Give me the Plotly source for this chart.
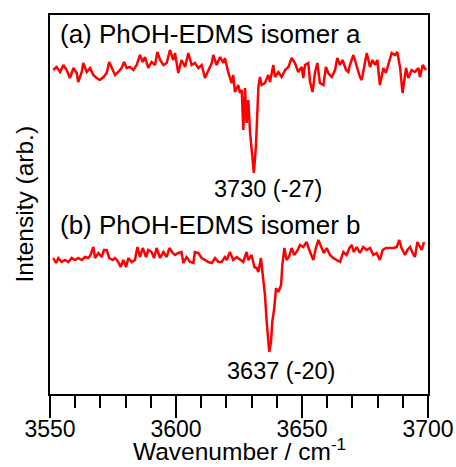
import plotly.graph_objects as go

# Trace (a): PhOH-EDMS isomer a
wn_a = [3551.3, 3552.6, 3554.0, 3555.3, 3556.6, 3557.9, 3559.3, 3560.6, 3561.2, 3562.6,
        3563.2, 3564.6, 3565.9, 3567.2, 3568.5, 3569.8, 3571.2, 3572.5, 3573.5, 3574.5,
        3575.8, 3577.1, 3578.4, 3579.4, 3580.4, 3581.7, 3583.1, 3584.4, 3585.7, 3586.8,
        3587.7, 3589.0, 3590.3, 3591.7, 3592.6, 3593.7, 3595.0, 3596.3, 3597.6, 3598.9,
        3599.6, 3600.9, 3602.2, 3603.6, 3604.9, 3606.2, 3607.5, 3608.9, 3610.2, 3611.5,
        3612.8, 3614.2, 3614.8, 3616.1, 3617.5, 3618.8, 3619.4, 3620.8, 3622.1, 3622.7,
        3623.4, 3624.7, 3625.4, 3626.1, 3626.7, 3627.4, 3628.0, 3628.7, 3629.4, 3630.0,
        3630.9, 3631.7, 3632.7, 3633.3, 3634.0, 3635.3, 3636.6, 3637.3, 3638.6, 3639.3,
        3640.6, 3641.9, 3643.3, 3644.6, 3645.9, 3647.2, 3648.5, 3649.9,
        3650.5, 3651.2, 3652.5, 3653.2, 3654.2, 3655.2, 3656.1, 3657.1, 3658.5, 3659.5,
        3660.4, 3661.8, 3663.1, 3664.0, 3665.1, 3666.1, 3667.5, 3668.4, 3669.0, 3670.4,
        3671.7, 3673.0, 3673.7, 3675.0, 3675.7, 3677.0, 3678.0, 3679.0, 3679.9, 3680.9,
        3682.3, 3683.3, 3684.3, 3685.6, 3686.9, 3687.8, 3688.9, 3689.9, 3691.3, 3692.2,
        3693.5, 3694.8, 3696.2, 3696.8, 3697.9, 3699.2]
int_a = [3.24, 3.27, 3.22, 3.29, 3.24, 3.16, 3.26, 3.21, 3.12, 3.22,
         3.31, 3.22, 3.26, 3.19, 3.16, 3.14, 3.17, 3.21, 3.32, 3.26,
         3.19, 3.22, 3.26, 3.32, 3.26, 3.27, 3.24, 3.29, 3.39, 3.32,
         3.37, 3.26, 3.32, 3.29, 3.42, 3.34, 3.29, 3.31, 3.44, 3.34,
         3.41, 3.21, 3.34, 3.27, 3.41, 3.29, 3.31, 3.26, 3.29, 3.16,
         3.24, 3.31, 3.39, 3.29, 3.37, 3.31, 3.36, 3.21, 3.11, 3.19,
         3.02, 3.09, 3.01, 3.04, 2.64, 3.06, 2.71, 2.94, 2.61, 2.44,
         2.21, 2.47, 3.07, 3.17, 3.09, 3.11, 3.19, 3.12, 3.29, 3.17,
         3.22, 3.17, 3.24, 3.27, 3.36, 3.31, 3.22, 3.27,
         3.16, 3.29, 3.31, 3.12, 3.02, 3.22, 3.31, 3.11, 3.09, 3.27,
         3.21, 3.17, 3.24, 3.36, 3.29, 3.34, 3.24, 3.22, 3.29, 3.39,
         3.27, 3.17, 3.14, 3.34, 3.41, 3.27, 3.34, 3.29, 3.34, 3.09,
         3.26, 3.21, 3.31, 3.41, 3.39, 3.42, 3.27, 3.01, 3.26, 3.16,
         3.24, 3.22, 3.26, 3.17, 3.29, 3.24]

# Trace (b): PhOH-EDMS isomer b
wn_b = [3551.3, 3552.4, 3553.3, 3554.6, 3556.0, 3557.3, 3558.6, 3559.9, 3561.2, 3562.6,
        3563.9, 3565.2, 3566.1, 3567.2, 3567.9, 3569.2, 3570.5, 3571.4, 3572.5, 3573.5,
        3574.9, 3575.8, 3577.1, 3578.0, 3579.1, 3580.2, 3581.1, 3582.4, 3583.7, 3584.7,
        3585.7, 3586.8, 3588.1, 3589.0, 3590.3, 3591.3, 3592.3, 3593.7, 3595.0, 3596.3,
        3597.4, 3598.7,
        3599.6, 3600.9, 3602.2, 3602.9, 3604.2, 3605.6, 3606.9, 3607.5, 3608.9, 3610.2,
        3611.5, 3612.8, 3614.2, 3615.5, 3616.8, 3618.1, 3619.4, 3620.1, 3621.4, 3622.7,
        3624.1, 3625.4, 3626.7, 3628.0, 3628.7, 3630.0, 3631.1, 3632.0, 3632.7, 3633.7,
        3634.7, 3635.3, 3636.0, 3636.6, 3637.0, 3637.7, 3638.2, 3639.0, 3639.7, 3640.6,
        3641.7, 3642.2, 3643.0, 3643.9, 3644.8, 3645.9, 3646.9, 3648.3, 3649.2,
        3650.5, 3651.8, 3653.2, 3654.5, 3655.5, 3656.5, 3657.8, 3658.7, 3659.8, 3661.1,
        3662.4, 3663.8, 3665.1, 3666.4, 3667.7, 3668.8, 3669.7, 3670.6, 3671.7, 3673.0,
        3674.3, 3675.7, 3677.0, 3678.3, 3679.6, 3680.9, 3682.0, 3683.3, 3684.6, 3686.2,
        3687.6, 3688.6, 3689.5, 3690.9, 3691.8, 3692.9, 3693.9, 3694.8, 3695.8, 3696.8,
        3697.5, 3698.4]
int_b = [1.36, 1.31, 1.36, 1.32, 1.34, 1.32, 1.36, 1.34, 1.36, 1.34,
         1.37, 1.36, 1.39, 1.47, 1.36, 1.41, 1.37, 1.44, 1.44, 1.36,
         1.34, 1.36, 1.32, 1.27, 1.34, 1.27, 1.36, 1.32, 1.34, 1.47,
         1.37, 1.46, 1.37, 1.44, 1.42, 1.36, 1.46, 1.36, 1.42, 1.37,
         1.46, 1.41,
         1.39, 1.41, 1.42, 1.31, 1.37, 1.32, 1.31, 1.42, 1.41, 1.36,
         1.34, 1.32, 1.31, 1.36, 1.32, 1.32, 1.37, 1.34, 1.42, 1.34,
         1.37, 1.34, 1.32, 1.42, 1.34, 1.39, 1.27, 1.26, 1.22, 1.36,
         1.16, 0.99, 0.72, 0.49, 0.42, 0.52, 0.72, 0.86, 1.06, 1.02,
         1.09, 1.29, 1.46, 1.34, 1.37, 1.46, 1.39, 1.44, 1.49,
         1.47, 1.52, 1.42, 1.34, 1.46, 1.54, 1.46, 1.41, 1.46, 1.39,
         1.36, 1.34, 1.32, 1.42, 1.39, 1.46, 1.49, 1.42, 1.47, 1.41,
         1.47, 1.44, 1.46, 1.39, 1.41, 1.34, 1.44, 1.46, 1.46, 1.46,
         1.47, 1.54, 1.46, 1.39, 1.44, 1.47, 1.41, 1.37, 1.52, 1.47,
         1.44, 1.52]

x_ticks = [3550, 3600, 3650, 3700]
x_tick_labels = ["3550", "3600", "3650", "3700"]

panel_labels = ["(a) PhOH-EDMS isomer a", "(b) PhOH-EDMS isomer b"]
peak_labels = ["3730 (-27)", "3637 (-20)"]
x_title = "Wavenumber / cm<sup>-1</sup>"
y_title = "Intensity (arb.)"

FONT = "Liberation Sans, Arial, sans-serif"

fig = go.Figure()
for wn, it in [(wn_a, int_a), (wn_b, int_b)]:
    fig.add_trace(go.Scatter(x=wn, y=it, mode="lines",
                             line=dict(color="#ff0000", width=2.5),
                             showlegend=False, hoverinfo="skip"))

annots = [
    dict(text=panel_labels[0], x=3553, y=3.60, xanchor="left", yanchor="middle", font_size=26),
    dict(text=peak_labels[0], x=3636.5, y=2.05, xanchor="center", yanchor="middle", font_size=23.5),
    dict(text=panel_labels[1], x=3553, y=1.69, xanchor="left", yanchor="middle", font_size=26),
    dict(text=peak_labels[1], x=3641.5, y=0.23, xanchor="center", yanchor="middle", font_size=23.5),
]
for a in annots:
    fig.add_annotation(x=a["x"], y=a["y"], xref="x", yref="y", text=a["text"],
                       showarrow=False, xanchor=a["xanchor"], yanchor=a["yanchor"],
                       font=dict(family=FONT, size=a["font_size"], color="black"))

# axis titles as annotations for exact placement
fig.add_annotation(x=0.5, y=0, xref="paper", yref="paper", yshift=-55,
                   text=x_title, showarrow=False, xanchor="center", yanchor="middle",
                   font=dict(family=FONT, size=24.5, color="black"))
fig.add_annotation(x=0, y=0.5, xref="paper", yref="paper", xshift=-26,
                   text=y_title, showarrow=False, xanchor="center", yanchor="middle",
                   textangle=-90,
                   font=dict(family=FONT, size=24.5, color="black"))

fig.update_layout(
    width=456, height=467,
    margin=dict(l=50, r=28, t=15, b=73, autoexpand=False),
    paper_bgcolor="white", plot_bgcolor="white",
    font=dict(family=FONT, color="black", size=16),
    xaxis=dict(range=[3550, 3700], tickvals=x_ticks, ticktext=x_tick_labels,
               ticks="outside", ticklen=22, tickwidth=2, tickcolor="black",
               tickfont=dict(size=23, family=FONT, color="black"),
               ticklabelstandoff=-9,
               showline=True, linewidth=2, linecolor="black", mirror=True,
               showgrid=False, zeroline=False, automargin=False,
               minor=dict(dtick=10, ticks="outside", ticklen=12, tickwidth=2,
                          tickcolor="black", showgrid=False)),
    yaxis=dict(range=[0, 3.79], showticklabels=False, ticks="",
               showline=True, linewidth=2, linecolor="black", mirror=True,
               showgrid=False, zeroline=False, automargin=False),
)

fig.write_html("out.html", config={"displayModeBar": False},
               post_script="document.body.style.margin='0';document.body.style.overflow='hidden';")
